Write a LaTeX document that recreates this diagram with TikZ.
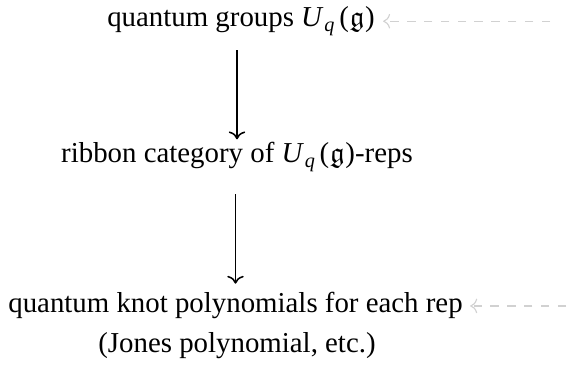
\documentclass[tikz,border=0pt]{standalone}
\usepackage{amssymb}
\usepackage{fontspec}
\setmainfont{Liberation Serif}
\usetikzlibrary{arrows.meta}
\definecolor{hint}{gray}{0.82}
\newcommand{\Uqg}{\textit{U}\kern0.3pt\textsubscript{\textit{q}}\kern1.2pt(\kern0.3pt\ensuremath{\mathfrak{g}}\kern0.3pt)}

\begin{document}
\begin{tikzpicture}[x=0.357pt,y=-0.357pt,font=\fontsize{10.3}{12}\selectfont,>=To,
  every node/.style={inner sep=1pt}]
\useasboundingbox (0,0) rectangle (569,366);
\node[anchor=base] (qgroups) at (241,27) {quantum groups \Uqg};
\node[anchor=base] (ribbon) at (237,163) {ribbon category of \Uqg-reps};
\node[anchor=base] (knotpoly) at (235.5,313) {quantum knot polynomials for each rep};
\node[anchor=base] (jones) at (237,352) {(Jones polynomial, etc.)};
% the two steps down
\draw[->,line width=0.55pt,shorten <=4pt] (qgroups.south -| ribbon.north) -- (ribbon.north);
\draw[->,line width=0.55pt,shorten <=7pt,shorten >=2pt] (ribbon.south -| knotpoly.north) -- (knotpoly.north);
% faint hints coming in from the right
\path (qgroups.east) ++(172,0) coordinate (topin);
\path (knotpoly.east) ++(100,0) coordinate (botin);
\draw[->,dashed,hint,shorten >=1.8pt] (topin) -- (qgroups.east);
\draw[->,dashed,hint,shorten >=1.5pt] (botin) -- (knotpoly.east);
\end{tikzpicture}
\end{document}
